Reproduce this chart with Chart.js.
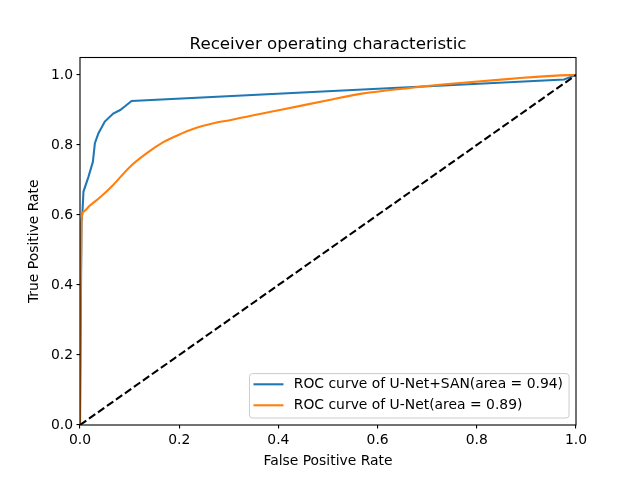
<!DOCTYPE html>
<html>
<head>
<meta charset="utf-8">
<script src="https://cdn.jsdelivr.net/npm/chart.js@4.4.0/dist/chart.umd.min.js"></script>
<style>
  html, body { margin: 0; padding: 0; background: #fff; }
  canvas { display: block; }
</style>
</head>
<body>
<canvas id="roc" width="640" height="478"></canvas>
<script>
const sanFpr = [0, 0.003, 0.005, 0.007, 0.017, 0.026, 0.030, 0.037, 0.050, 0.067, 0.081, 0.092, 0.104, 0.976, 1.0];
const sanTpr = [0, 0.58, 0.61, 0.667, 0.709, 0.752, 0.805, 0.833, 0.867, 0.89, 0.90, 0.912, 0.926, 0.987, 1.0];

const unetFpr = [0, 0.001, 0.003, 0.007, 0.020, 0.040, 0.067, 0.101, 0.134, 0.168, 0.202, 0.235, 0.269, 0.302, 0.336, 0.370, 0.403, 0.5, 0.565, 0.665, 0.766, 0.867, 0.968, 1.0];
const unetTpr = [0, 0.30, 0.585, 0.609, 0.627, 0.650, 0.686, 0.738, 0.776, 0.808, 0.831, 0.849, 0.862, 0.871, 0.881, 0.891, 0.900, 0.928, 0.946, 0.963, 0.977, 0.989, 0.999, 1.0];

const chanceFpr = [0, 1];
const chanceTpr = [0, 1];

const xTicks = [0, 0.2, 0.4, 0.6, 0.8, 1.0];
const yTicks = [0, 0.2, 0.4, 0.6, 0.8, 1.0];

const titleText = 'Receiver operating characteristic';

const zip = (xs, ys) => xs.map((x, i) => ({ x: x, y: ys[i] }));

const FONT = "'DejaVu Sans', sans-serif";

// black frame round the plot area (matplotlib spines) and the title centred over it
const frame = {
  id: 'frame',
  afterDatasetsDraw(chart) {
    const { ctx, chartArea: a } = chart;
    ctx.save();
    ctx.strokeStyle = '#000';
    ctx.lineWidth = 1.1;
    ctx.strokeRect(a.left, a.top, a.right - a.left, a.bottom - a.top);
    ctx.fillStyle = '#000';
    ctx.font = '16.7px ' + FONT;
    ctx.textAlign = 'center';
    ctx.textBaseline = 'alphabetic';
    ctx.fillText(titleText, (a.left + a.right) / 2, a.top - 8.5);
    ctx.restore();
  }
};

// legend in the lower right corner of the plot area
const cornerLegend = {
  id: 'cornerLegend',
  afterDraw(chart) {
    const { ctx, chartArea: a } = chart;
    const items = chart.data.datasets.filter(d => d.label);
    ctx.save();
    ctx.font = '13.9px ' + FONT;
    const textW = Math.max(...items.map(d => ctx.measureText(d.label).width));
    const w = textW + 44.3 + 6;
    const h = 44.4;
    const x = a.right - 7 - w;
    const y = a.bottom - 7 - h;
    ctx.beginPath();
    ctx.roundRect(x, y, w, h, 3);
    ctx.fillStyle = 'rgba(255,255,255,0.8)';
    ctx.fill();
    ctx.strokeStyle = '#cccccc';
    ctx.lineWidth = 1;
    ctx.stroke();
    items.forEach((d, i) => {
      const cy = y + 10.7 + i * 21;
      ctx.beginPath();
      ctx.moveTo(x + 4, cy);
      ctx.lineTo(x + 34, cy);
      ctx.strokeStyle = d.borderColor;
      ctx.lineWidth = 2.08;
      ctx.stroke();
      ctx.fillStyle = '#000';
      ctx.textBaseline = 'middle';
      ctx.fillText(d.label, x + 44.3, cy + 0.5);
    });
    ctx.restore();
  }
};

new Chart(document.getElementById('roc'), {
  type: 'scatter',
  data: {
    datasets: [
      {
        label: 'ROC curve of U-Net+SAN(area = 0.94)',
        data: zip(sanFpr, sanTpr),
        borderColor: '#1f77b4',
        borderWidth: 2.08,
        showLine: true,
        pointRadius: 0,
        order: 3
      },
      {
        label: 'ROC curve of U-Net(area = 0.89)',
        data: zip(unetFpr, unetTpr),
        borderColor: '#ff7f0e',
        borderWidth: 2.08,
        showLine: true,
        cubicInterpolationMode: 'monotone',
        pointRadius: 0,
        order: 2
      },
      {
        data: zip(chanceFpr, chanceTpr),
        borderColor: '#000',
        borderWidth: 2.08,
        borderDash: [7.7, 3.3],
        showLine: true,
        pointRadius: 0,
        order: 1
      }
    ]
  },
  options: {
    responsive: false,
    animation: false,
    devicePixelRatio: 1,
    layout: { padding: { left: 0, right: 64, top: 57.5, bottom: 0 } },
    plugins: {
      legend: { display: false },
      tooltip: { enabled: false },
      title: { display: false }
    },
    scales: {
      x: {
        type: 'linear',
        min: 0,
        max: 1,
        afterBuildTicks: s => { s.ticks = xTicks.map(v => ({ value: v })); },
        afterFit: s => { s.height = 53; },
        border: { display: false },
        grid: { drawOnChartArea: false, drawTicks: true, tickLength: 3.5, color: '#000', lineWidth: 1.1 },
        ticks: {
          color: '#000',
          padding: 3.5,
          maxRotation: 0,
          autoSkip: false,
          font: { family: FONT, size: 13.9 },
          callback: v => v.toFixed(1)
        },
        title: {
          display: true,
          text: 'False Positive Rate',
          color: '#000',
          font: { family: FONT, size: 13.9 },
          padding: { top: 0, bottom: 8.2 }
        }
      },
      y: {
        type: 'linear',
        min: 0,
        max: 1.05,
        afterBuildTicks: s => { s.ticks = yTicks.map(v => ({ value: v })); },
        afterFit: s => { s.width = 80; },
        border: { display: false },
        grid: { drawOnChartArea: false, drawTicks: true, tickLength: 3.5, color: '#000', lineWidth: 1.1 },
        ticks: {
          color: '#000',
          padding: 3.5,
          autoSkip: false,
          font: { family: FONT, size: 13.9 },
          callback: v => v.toFixed(1)
        },
        title: {
          display: true,
          text: 'True Positive Rate',
          color: '#000',
          font: { family: FONT, size: 13.9 },
          padding: { top: 26.5, bottom: 0 }
        }
      }
    }
  },
  plugins: [frame, cornerLegend]
});
</script>
</body>
</html>
